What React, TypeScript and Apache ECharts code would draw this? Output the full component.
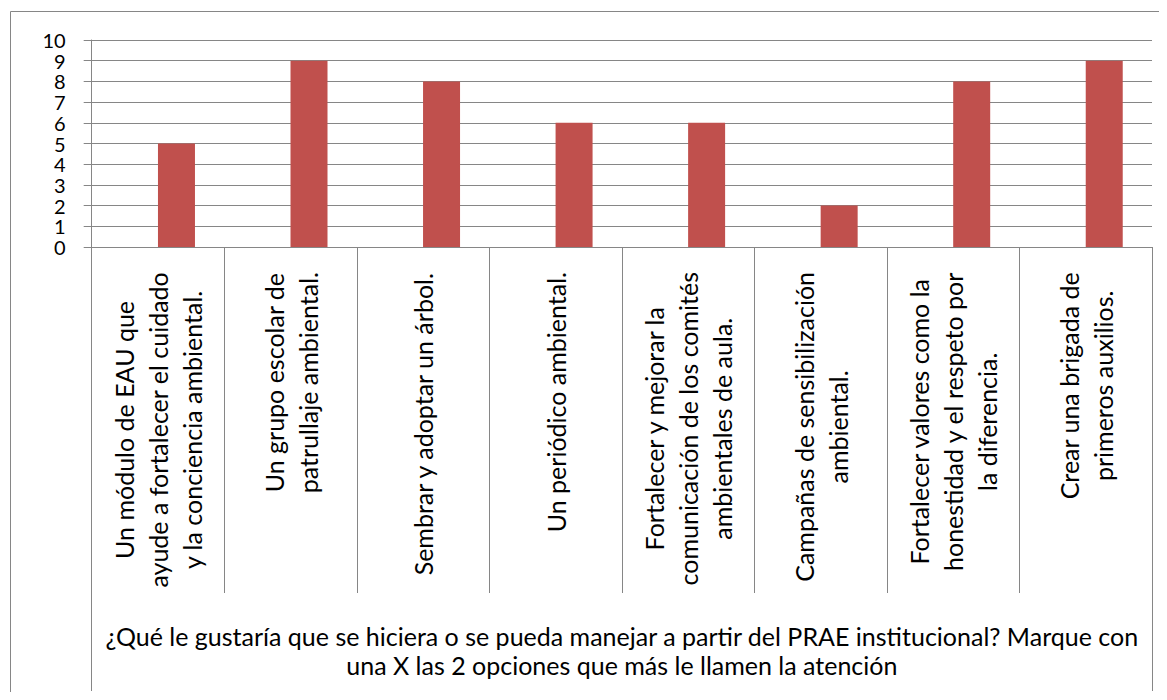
import React, { useEffect, useRef } from "react";
import * as echarts from "echarts";

const categories: string[] = [
  "Un módulo de EAU que\nayude a fortalecer el cuidado\ny la conciencia ambiental.",
  "Un grupo escolar de\npatrullaje ambiental.",
  "Sembrar y adoptar un árbol.",
  "Un periódico ambiental.",
  "Fortalecer y mejorar la\ncomunicación de los comités\nambientales de aula.",
  "Campañas de sensibilización\nambiental.",
  "Fortalecer valores como la\nhonestidad y el respeto por\nla diferencia.",
  "Crear una brigada de\nprimeros auxilios.",
];

const values: number[] = [5, 9, 8, 6, 6, 2, 8, 9];
const emptySeries: number[] = [];

const groupTitle: string[] = [
  "¿Qué le gustaría que se hiciera o se pueda manejar a partir del PRAE institucional? Marque con\nuna X las 2 opciones que más le llamen la atención",
];

const GRAY = "#868686";
const FONT = "Lato";

export default function App() {
  const ref = useRef<HTMLDivElement>(null);

  useEffect(() => {
    if (!ref.current) return;
    const chart = echarts.init(ref.current, undefined, { renderer: "svg" });
    chart.setOption({
      animation: false,
      backgroundColor: "#ffffff",
      textStyle: { fontFamily: FONT },
      grid: { left: 83.7, right: 7, top: 32, bottom: 445, containLabel: false },
      graphic: [
        {
          type: "rect",
          shape: { x: 2.5, y: 3.5, width: 1300, height: 900 },
          style: { fill: "none", stroke: GRAY, lineWidth: 1 },
          silent: true,
        },
      ],
      xAxis: [
        {
          type: "category",
          data: categories,
          position: "bottom",
          axisLine: { show: true, lineStyle: { color: GRAY, width: 1 } },
          axisTick: { show: true, length: 346, lineStyle: { color: GRAY, width: 1 } },
          axisLabel: {
            interval: 0,
            rotate: 90,
            margin: 25,
            color: "#000",
            fontFamily: FONT,
            fontSize: 25,
            lineHeight: 34,
            formatter: (v: string) =>
              v
                .split("\n")
                .map((l) => `{c|${l}}`)
                .join("\n"),
            rich: {
              c: { align: "center", fontSize: 25, lineHeight: 34, fontFamily: FONT, color: "#000" },
            },
          },
          splitLine: { show: false },
        },
        {
          type: "category",
          data: groupTitle,
          position: "bottom",
          axisLine: { show: false },
          axisTick: { show: true, length: 444, lineStyle: { color: GRAY, width: 1 } },
          axisLabel: {
            interval: 0,
            margin: 374,
            color: "#000",
            fontFamily: FONT,
            fontSize: 25,
            lineHeight: 29,
            align: "center",
          },
          splitLine: { show: false },
        },
      ],
      yAxis: {
        type: "value",
        min: 0,
        max: 10,
        interval: 1,
        axisLine: { show: true, lineStyle: { color: GRAY, width: 1 } },
        axisTick: { show: true, length: 8, lineStyle: { color: GRAY, width: 1 } },
        axisLabel: {
          margin: 26,
          color: "#000",
          fontFamily: FONT,
          fontSize: 20,
          lineHeight: 20,
          showMinLabel: true,
          showMaxLabel: true,
          hideOverlap: false,
        },
        splitLine: { show: true, lineStyle: { color: GRAY, width: 1 } },
      },
      series: [
        {
          type: "bar",
          name: "Serie 1",
          xAxisIndex: 0,
          data: emptySeries,
          barWidth: 37,
          barGap: "0%",
          itemStyle: { color: "#4F81BD" },
        },
        {
          type: "bar",
          name: "Serie 2",
          xAxisIndex: 0,
          data: values,
          barWidth: 37,
          barGap: "0%",
          itemStyle: { color: "#C0504D" },
        },
      ],
    });
    return () => chart.dispose();
  }, []);

  return <div ref={ref} style={{ width: 1151, height: 684 }} />;
}
